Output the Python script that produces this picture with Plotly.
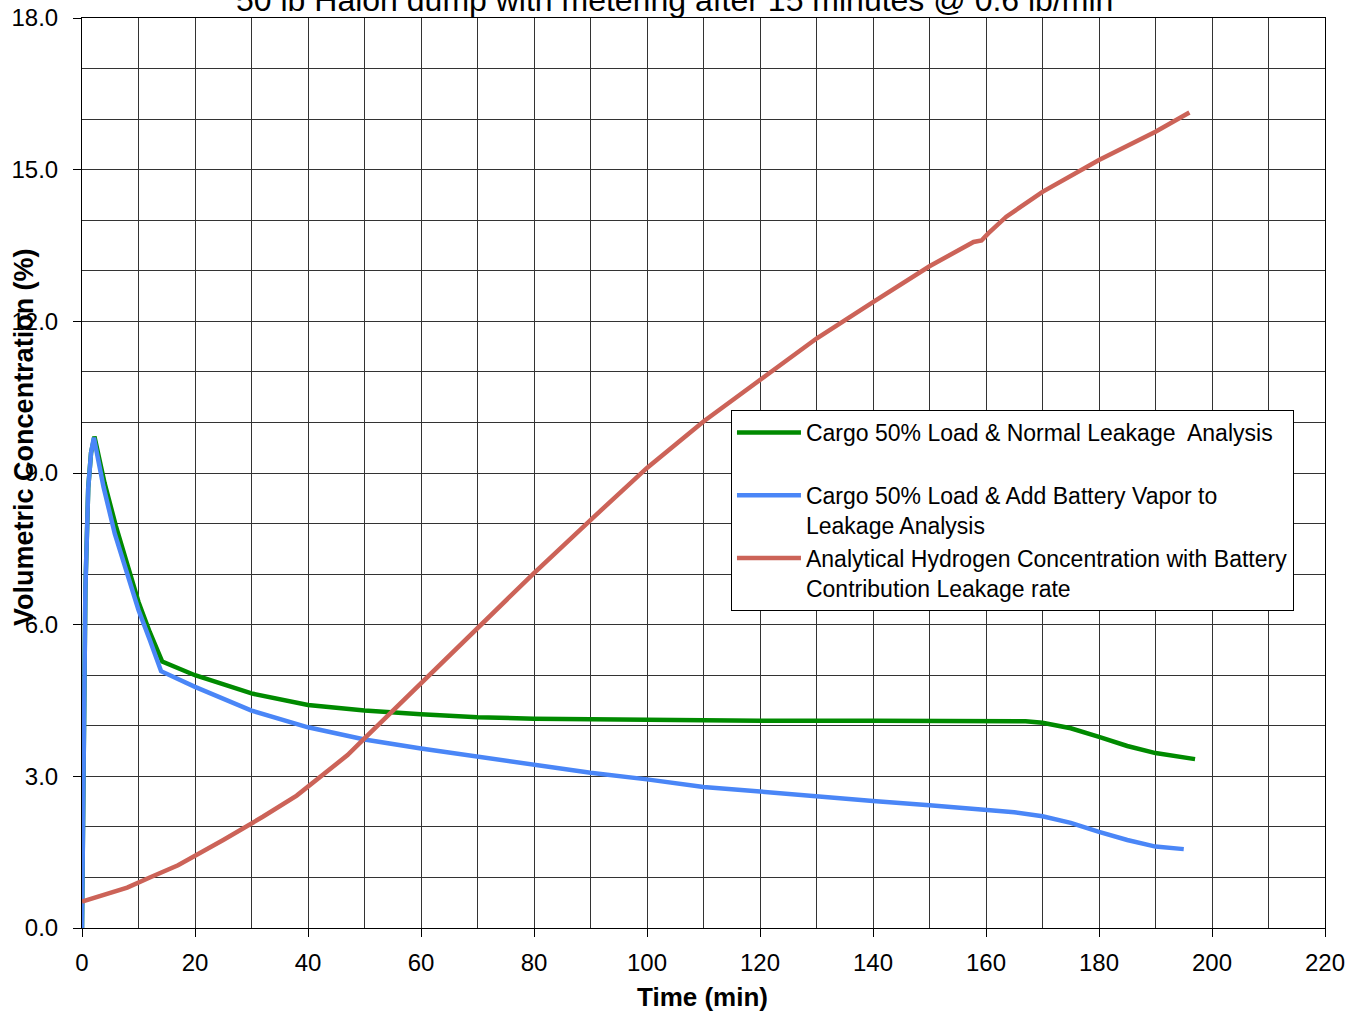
import plotly.graph_objects as go

# ---- data ----
green_t = [0, 0.3, 0.6, 1.1, 1.6, 2.2, 4, 6, 8, 10, 12, 14.2, 20, 30, 40, 50, 60, 70, 80, 90,
           100, 120, 140, 160, 167, 170, 175, 180, 185, 190, 194, 197]
green_v = [0, 3.4, 6.7, 8.7, 9.4, 9.72, 8.8, 7.95, 7.2, 6.45, 5.85, 5.27, 5.0, 4.64, 4.41, 4.30,
           4.23, 4.17, 4.14, 4.13, 4.11, 4.10, 4.10, 4.09, 4.09, 4.06, 3.95, 3.78, 3.60, 3.46,
           3.38, 3.34]

blue_t = [0, 0.3, 0.6, 1.1, 1.6, 2.1, 3.8, 5.8, 7.9, 10, 12, 14, 20, 30, 40, 50, 60, 70, 80, 90,
          100, 110, 120, 130, 140, 150, 160, 165, 170, 175, 180, 185, 190, 195]
blue_v = [0, 3.4, 6.7, 8.7, 9.4, 9.70, 8.73, 7.8, 7.01, 6.29, 5.7, 5.08, 4.77, 4.30, 3.97, 3.73,
          3.55, 3.39, 3.22, 3.07, 2.94, 2.79, 2.70, 2.60, 2.51, 2.43, 2.35, 2.29, 2.21, 2.08,
          1.90, 1.74, 1.61, 1.56]

red_t = [0, 8, 12, 17, 25, 32, 38, 43, 47, 50, 55, 60, 70, 80, 90, 100, 110, 120, 130, 140, 150,
         157.8, 159.2, 160.4, 163.6, 170, 180, 190, 196]
red_v = [0.52, 0.80, 1.0, 1.24, 1.74, 2.2, 2.62, 3.06, 3.42, 3.75, 4.3, 4.82, 5.93, 7.02, 8.07,
         9.1, 10.02, 10.84, 11.66, 12.38, 13.09, 13.57, 13.6, 13.74, 14.07, 14.56, 15.19, 15.75,
         16.13]

names = [
    "Cargo 50% Load & Normal Leakage  Analysis<br> ",
    "Cargo 50% Load & Add Battery Vapor to<br>Leakage Analysis",
    "Analytical Hydrogen Concentration with Battery<br>Contribution Leakage rate",
]
title_text = "50 lb Halon dump with metering after 15 minutes @ 0.6 lb/min"
x_title = "Time (min)"
y_title = "Volumetric Concentration (%)"

FONT = "Liberation Sans, Arial, sans-serif"
GRID = "#333333"

fig = go.Figure()
fig.add_trace(go.Scatter(x=green_t, y=green_v, mode="lines", name=names[0],
                         line=dict(color="#008A00", width=4.5)))
fig.add_trace(go.Scatter(x=blue_t, y=blue_v, mode="lines", name=names[1],
                         line=dict(color="#4A86F7", width=4.5)))
fig.add_trace(go.Scatter(x=red_t, y=red_v, mode="lines", name=names[2],
                         line=dict(color="#CC6358", width=4.5)))

fig.update_layout(
    width=1362, height=1011,
    margin=dict(l=82, r=37, t=18, b=83),
    paper_bgcolor="white", plot_bgcolor="white",
    font=dict(family=FONT, size=24, color="black"),
    showlegend=True,
    legend=dict(x=0.5221, y=0.5692, xanchor="left", yanchor="top",
                bgcolor="white", bordercolor="black", borderwidth=1,
                font=dict(family=FONT, size=23, color="black"),
                valign="top", tracegroupgap=0, itemwidth=64),
    xaxis=dict(range=[0, 220], dtick=20, tick0=0, showgrid=True, gridcolor=GRID,
               gridwidth=1, showline=True, linecolor="black", linewidth=1, mirror=True,
               ticks="outside", ticklen=8, tickcolor="black", zeroline=False, automargin=False,
               tickfont=dict(size=24), ticklabelstandoff=5,
               minor=dict(dtick=10, showgrid=True, gridcolor=GRID, gridwidth=1, ticks="")),
    yaxis=dict(range=[0, 18], dtick=3, tick0=0, tickformat=".1f", showgrid=True,
               gridcolor=GRID, gridwidth=1, showline=True, linecolor="black", linewidth=1,
               mirror=True, ticks="outside", ticklen=8, tickcolor="black", zeroline=False,
               automargin=False, tickfont=dict(size=24), ticklabelstandoff=10,
               minor=dict(dtick=1, showgrid=True, gridcolor=GRID, gridwidth=1, ticks="")),
    annotations=[
        dict(text=title_text, xref="paper", yref="paper", x=0.477, y=1.0198,
             xanchor="center", yanchor="middle", showarrow=False,
             font=dict(family=FONT, size=32, color="black")),
        dict(text="<b>" + x_title + "</b>", xref="paper", yref="paper", x=0.4995, y=-0.0758,
             xanchor="center", yanchor="middle", showarrow=False,
             font=dict(family=FONT, size=26, color="black")),
        dict(text="<b>" + y_title + "</b>", xref="paper", yref="paper", x=-0.0467, y=0.5396,
             xanchor="center", yanchor="middle", showarrow=False, textangle=-90,
             font=dict(family=FONT, size=27, color="black")),
    ],
)

fig.write_html("out.html", config={"displayModeBar": False},
               post_script="document.body.style.margin='0';document.body.style.overflow='hidden';")
